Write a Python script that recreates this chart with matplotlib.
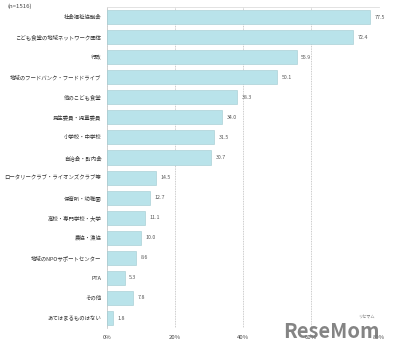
import numpy as np
import matplotlib
matplotlib.use('Agg')
import matplotlib.pyplot as plt

plt.rcParams['font.family'] = ['Noto Sans CJK JP', 'DejaVu Sans']

# データ
labels = ['社会福祉協議会', 'こども食堂の地域ネットワーク団体', '行政', '地域のフードバンク・フードドライブ',
          '他のこども食堂', '民生委員・児童委員', '小学校・中学校', '自治会・町内会',
          'ロータリークラブ・ライオンズクラブ等', '保育所・幼稚園', '高校・専門学校・大学', '農協・漁協',
          '地域のNPOサポートセンター', 'PTA', 'その他', 'あてはまるものはない']
values = [77.5, 72.4, 55.9, 50.1, 38.3, 34.0, 31.5, 30.7, 14.5, 12.7, 11.1, 10.0, 8.6, 5.3, 7.8, 1.8]
xticks = [0, 20, 40, 60, 80]

fig = plt.figure(figsize=(3.93, 3.49), dpi=100)
ax = fig.add_axes([0.272, 0.060, 0.692, 0.920])

y = np.arange(len(labels))
ax.barh(y, values, height=0.7, color='#b9e3ea', edgecolor='#9fc9d0', linewidth=0.4, zorder=3)
for yi, v in zip(y, values):
    ax.text(v + 1.3, yi, f'{v:.1f}', va='center', ha='left', fontsize=3.8, color='#555555')

ax.set_xlim(0, 80)
ax.set_ylim(15.5, -0.5)
ax.set_xticks(xticks)
ax.set_xticklabels([f'{t}%' for t in xticks], fontsize=4.3, color='#444444')
ax.set_yticks(y)
ax.set_yticklabels(labels, fontsize=3.9, color='#333333')
ax.tick_params(axis='y', length=0, pad=4)
ax.tick_params(axis='x', length=0, pad=5)
ax.grid(axis='x', linestyle=(0, (1, 1)), color='#bbbbbb', linewidth=0.6, zorder=0)
for s in ['right', 'bottom']:
    ax.spines[s].set_visible(False)
ax.spines['left'].set_color('#cccccc')
ax.spines['left'].set_linewidth(0.6)
ax.spines['top'].set_color('#dddddd')
ax.spines['top'].set_linewidth(0.6)

fig.text(8 / 393, 1 - 6 / 349, '(n=1516)', fontsize=4.3, color='#444444', va='center')
fig.text(283 / 393, 1 - 331 / 349, 'ReseMom', fontsize=14.5, fontweight='bold', color='#777777',
         va='center', ha='left', alpha=0.9)
fig.text(366 / 393, 1 - 317 / 349, 'リセマム', fontsize=3, color='#777777', va='center', ha='center')

fig.savefig('out.png', dpi=100)
